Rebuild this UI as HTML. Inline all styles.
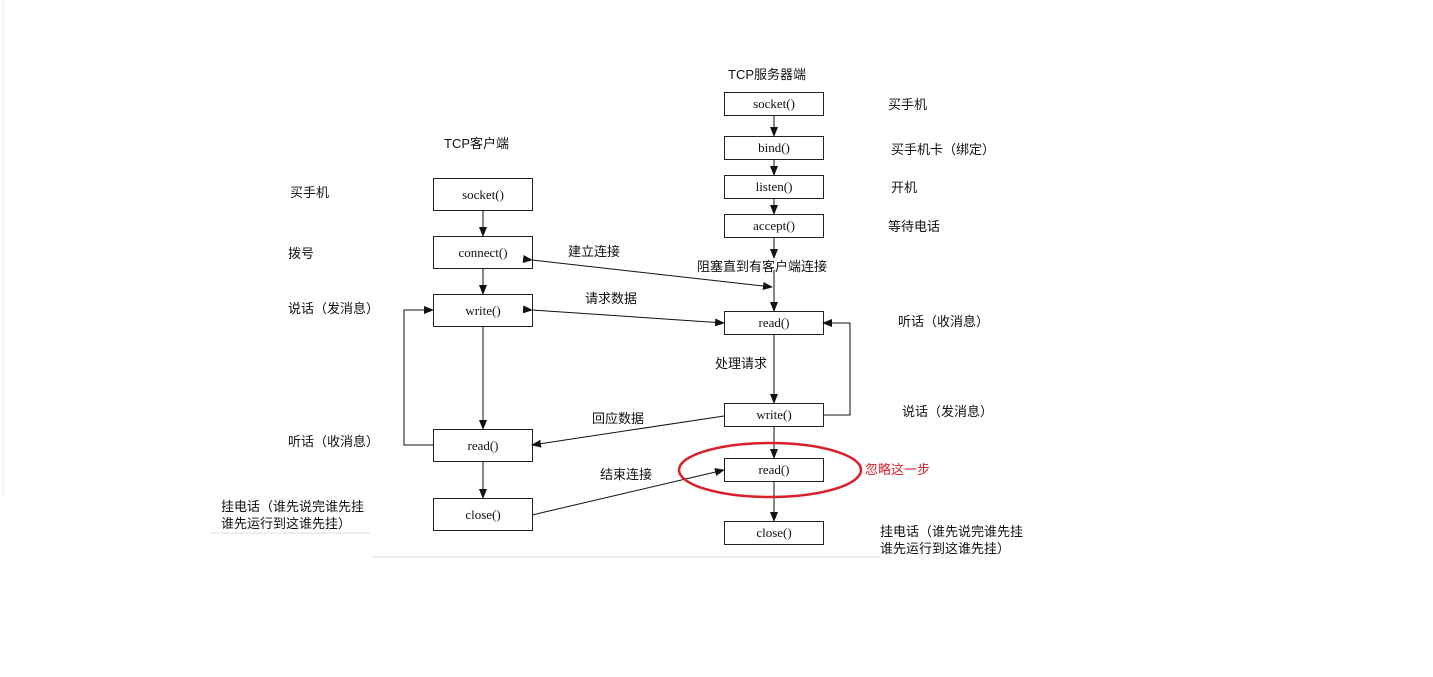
<!DOCTYPE html>
<html><head><meta charset="utf-8"><style>
html,body{margin:0;padding:0;background:#fff;width:1433px;height:677px;overflow:hidden}
svg text{font-family:"Liberation Serif","Noto Sans CJK SC",serif;font-size:13px;fill:#111}
.cn{font-family:"Liberation Sans","Noto Sans CJK SC",sans-serif;font-size:13px}
</style></head><body>
<svg width="1433" height="677" xmlns="http://www.w3.org/2000/svg">
<defs><marker id="a" markerWidth="10" markerHeight="8" refX="9" refY="4" orient="auto" markerUnits="userSpaceOnUse"><path d="M0,0 L10,4 L0,8 z" fill="#111"/></marker></defs>
<line x1="210" y1="533" x2="370" y2="533" stroke="#eee" stroke-width="2"/>
<line x1="373" y1="557" x2="880" y2="557" stroke="#eee" stroke-width="2"/>
<line x1="3" y1="0" x2="3" y2="497" stroke="#f3f3f3" stroke-width="2"/>
<g fill="#fff" stroke="#222" stroke-width="1">
<rect x="433.5" y="178.5" width="99" height="32"/>
<rect x="433.5" y="236.5" width="99" height="32"/>
<rect x="433.5" y="294.5" width="99" height="32"/>
<rect x="433.5" y="429.5" width="99" height="32"/>
<rect x="433.5" y="498.5" width="99" height="32"/>
<rect x="724.5" y="92.5" width="99" height="23"/>
<rect x="724.5" y="136.5" width="99" height="23"/>
<rect x="724.5" y="175.5" width="99" height="23"/>
<rect x="724.5" y="214.5" width="99" height="23"/>
<rect x="724.5" y="311.5" width="99" height="23"/>
<rect x="724.5" y="403.5" width="99" height="23"/>
<rect x="724.5" y="458.5" width="99" height="23"/>
<rect x="724.5" y="521.5" width="99" height="23"/>
</g>
<g stroke="#111" stroke-width="1" fill="none">
<line x1="483" y1="210" x2="483" y2="236" marker-end="url(#a)"/>
<line x1="483" y1="268" x2="483" y2="294" marker-end="url(#a)"/>
<line x1="483" y1="326" x2="483" y2="429" marker-end="url(#a)"/>
<line x1="483" y1="461" x2="483" y2="498" marker-end="url(#a)"/>
<polyline points="433,445 404,445 404,310 433,310" marker-end="url(#a)"/>
<line x1="774" y1="115" x2="774" y2="136" marker-end="url(#a)"/>
<line x1="774" y1="159" x2="774" y2="175" marker-end="url(#a)"/>
<line x1="774" y1="198" x2="774" y2="214" marker-end="url(#a)"/>
<line x1="774" y1="237" x2="774" y2="258" marker-end="url(#a)"/>
<line x1="774" y1="270" x2="774" y2="311" marker-end="url(#a)"/>
<line x1="774" y1="334" x2="774" y2="403" marker-end="url(#a)"/>
<line x1="774" y1="426" x2="774" y2="458" marker-end="url(#a)"/>
<line x1="774" y1="481" x2="774" y2="521" marker-end="url(#a)"/>
<polyline points="823,415 850,415 850,323 823,323" marker-end="url(#a)"/>
<line x1="532" y1="260" x2="772" y2="287" marker-end="url(#a)" marker-start="url(#a)"/>
<line x1="532" y1="310" x2="724" y2="323" marker-end="url(#a)" marker-start="url(#a)"/>
<line x1="724" y1="416" x2="532" y2="445" marker-end="url(#a)"/>
<line x1="532" y1="515" x2="724" y2="470" marker-end="url(#a)"/>
</g>
<ellipse cx="770" cy="470" rx="91" ry="27" fill="none" stroke="#d8202a" stroke-width="2.5"/>
<g text-anchor="middle">
<text x="483" y="199">socket()</text>
<text x="483" y="257">connect()</text>
<text x="483" y="315">write()</text>
<text x="483" y="450">read()</text>
<text x="483" y="519">close()</text>
<text x="774" y="108">socket()</text>
<text x="774" y="152">bind()</text>
<text x="774" y="191">listen()</text>
<text x="774" y="230">accept()</text>
<text x="774" y="327">read()</text>
<text x="774" y="419">write()</text>
<text x="774" y="474">read()</text>
<text x="774" y="537">close()</text>
</g>
<g class="cn">
<text class="cn" x="444" y="148">TCP客户端</text>
<text class="cn" x="728" y="79">TCP服务器端</text>
<text class="cn" x="290" y="197">买手机</text>
<text class="cn" x="288" y="258">拨号</text>
<text class="cn" x="288" y="313">说话（发消息）</text>
<text class="cn" x="288" y="446">听话（收消息）</text>
<text class="cn" x="221" y="511">挂电话（谁先说完谁先挂</text>
<text class="cn" x="221" y="528">谁先运行到这谁先挂）</text>
<text class="cn" x="568" y="256">建立连接</text>
<text class="cn" x="697" y="271">阻塞直到有客户端连接</text>
<text class="cn" x="585" y="303">请求数据</text>
<text class="cn" x="715" y="368">处理请求</text>
<text class="cn" x="592" y="423">回应数据</text>
<text class="cn" x="600" y="479">结束连接</text>
<text class="cn" x="888" y="109">买手机</text>
<text class="cn" x="891" y="154">买手机卡（绑定）</text>
<text class="cn" x="891" y="192">开机</text>
<text class="cn" x="888" y="231">等待电话</text>
<text class="cn" x="898" y="326">听话（收消息）</text>
<text class="cn" x="902" y="416">说话（发消息）</text>
<text class="cn" x="865" y="474" style="fill:#d8202a">忽略这一步</text>
<text class="cn" x="880" y="536">挂电话（谁先说完谁先挂</text>
<text class="cn" x="880" y="553">谁先运行到这谁先挂）</text>
</g>
</svg>
</body></html>
